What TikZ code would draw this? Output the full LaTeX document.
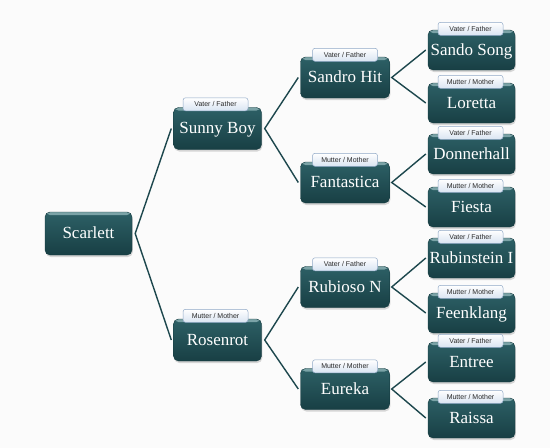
\documentclass[tikz,border=0pt]{standalone}
\usepackage{fontspec}
\setmainfont{Liberation Serif}
\newfontfamily\tabfont{Liberation Sans}
\usetikzlibrary{shadows}
\definecolor{boxtop}{HTML}{2D6066}
\definecolor{boxbot}{HTML}{183F44}
\definecolor{boxedge}{HTML}{143A3F}
\definecolor{boxhi}{HTML}{8FB5B8}
\definecolor{tabbot}{HTML}{D9E4F2}
\definecolor{tabedge}{HTML}{8FA8C6}
\definecolor{tabtext}{HTML}{2A2A2A}
\definecolor{linecol}{HTML}{1D474D}
\definecolor{bg}{HTML}{FBFBFB}
\tikzset{
  pbox/.style={rounded corners=5pt, top color=boxtop, bottom color=boxbot,
    draw=boxedge, line width=0.4pt, text=white, inner sep=0pt,
    font=\fontsize{17}{19}\selectfont, text height=11pt, text depth=1pt,
    drop shadow={shadow xshift=0.8pt, shadow yshift=-2pt, opacity=0.3},
    path picture={\fill[boxhi, opacity=0.8] ([yshift=1pt]path picture bounding box.north west) rectangle ([yshift=-3pt]path picture bounding box.north east);}},
  g0/.style={pbox, minimum width=87pt, minimum height=43pt},
  g1/.style={pbox, minimum width=88pt, minimum height=42pt},
  g2/.style={pbox, minimum width=89pt, minimum height=41pt},
  g3/.style={pbox, minimum width=87pt, minimum height=40pt},
  tabbox/.style={rounded corners=2.5pt, top color=white, bottom color=tabbot,
    draw=tabedge, line width=0.5pt, minimum width=65pt, minimum height=13pt,
    inner sep=0pt, font=\tabfont\fontsize{7}{8}\selectfont, text=tabtext},
  conn/.style={draw=linecol, line width=1.4pt, line join=miter},
}
\begin{document}
\begin{tikzpicture}[x=1pt, y=-1pt]
\fill[bg] (0,0) rectangle (550,448);
\useasboundingbox (0,0) rectangle (550,448);

% generation 0
\node[g0] (scarlett) at (88.5,233.5) {Scarlett};

% generation 1
\node[g1] (sunny) at (217.5,128.5) {Sunny Boy};
\node[g1] (rosenrot) at (217.5,340) {Rosenrot};

% generation 2
\node[g2] (sandro) at (345,77.5) {Sandro Hit};
\node[g2] (fantastica) at (345,182.5) {Fantastica};
\node[g2] (rubioso) at (345,287) {Rubioso N};
\node[g2] (eureka) at (345,389) {Eureka};

% generation 3
\node[g3] (sando) at (471.5,50) {Sando Song};
\node[g3] (loretta) at (471.5,103) {Loretta};
\node[g3] (donnerhall) at (471.5,154) {Donnerhall};
\node[g3] (fiesta) at (471.5,207) {Fiesta};
\node[g3] (rubinstein) at (471.5,258) {Rubinstein I};
\node[g3] (feenklang) at (471.5,313) {Feenklang};
\node[g3] (entree) at (471.5,362) {Entree};
\node[g3] (raissa) at (471.5,418) {Raissa};

% tabs
\node[tabbox] (tsunny) at ([xshift=-2pt,yshift=3pt]sunny.north) {Vater / Father};
\node[tabbox] (trosenrot) at ([xshift=-2pt,yshift=3pt]rosenrot.north) {Mutter / Mother};
\node[tabbox] (tsandro) at ([xshift=0pt,yshift=2pt]sandro.north) {Vater / Father};
\node[tabbox] (tfantastica) at ([xshift=0pt,yshift=2pt]fantastica.north) {Mutter / Mother};
\node[tabbox] (trubioso) at ([xshift=0pt,yshift=2pt]rubioso.north) {Vater / Father};
\node[tabbox] (teureka) at ([xshift=0pt,yshift=2pt]eureka.north) {Mutter / Mother};
\node[tabbox] (tsando) at ([xshift=-1pt,yshift=1pt]sando.north) {Vater / Father};
\node[tabbox] (tloretta) at ([xshift=-1pt,yshift=1pt]loretta.north) {Mutter / Mother};
\node[tabbox] (tdonnerhall) at ([xshift=-1pt,yshift=1pt]donnerhall.north) {Vater / Father};
\node[tabbox] (tfiesta) at ([xshift=-1pt,yshift=1pt]fiesta.north) {Mutter / Mother};
\node[tabbox] (trubinstein) at ([xshift=-1pt,yshift=1pt]rubinstein.north) {Vater / Father};
\node[tabbox] (tfeenklang) at ([xshift=-1pt,yshift=1pt]feenklang.north) {Mutter / Mother};
\node[tabbox] (tentree) at ([xshift=-1pt,yshift=1pt]entree.north) {Vater / Father};
\node[tabbox] (traissa) at ([xshift=-1pt,yshift=1pt]raissa.north) {Mutter / Mother};

% fork vertices
\coordinate (v0) at ([xshift=3pt]scarlett.east);
\coordinate (v1a) at ([xshift=3pt]sunny.east);
\coordinate (v1b) at ([xshift=3pt]rosenrot.east);
\coordinate (v2a) at ([xshift=2pt]sandro.east);
\coordinate (v2b) at ([xshift=2pt]fantastica.east);
\coordinate (v2c) at ([xshift=2pt]rubioso.east);
\coordinate (v2d) at ([xshift=2pt]eureka.east);

% connectors
\draw[conn] ([xshift=-2pt]sunny.west) -- (v0) -- ([xshift=-2pt]rosenrot.west);
\draw[conn] ([xshift=-2pt]sandro.west) -- (v1a) -- ([xshift=-2pt]fantastica.west);
\draw[conn] ([xshift=-2pt]rubioso.west) -- (v1b) -- ([xshift=-2pt]eureka.west);
\draw[conn] ([xshift=-2pt]sando.west) -- (v2a) -- ([xshift=-2pt]loretta.west);
\draw[conn] ([xshift=-2pt]donnerhall.west) -- (v2b) -- ([xshift=-2pt]fiesta.west);
\draw[conn] ([xshift=-2pt]rubinstein.west) -- (v2c) -- ([xshift=-2pt]feenklang.west);
\draw[conn] ([xshift=-2pt]entree.west) -- (v2d) -- ([xshift=-2pt]raissa.west);
\end{tikzpicture}
\end{document}
